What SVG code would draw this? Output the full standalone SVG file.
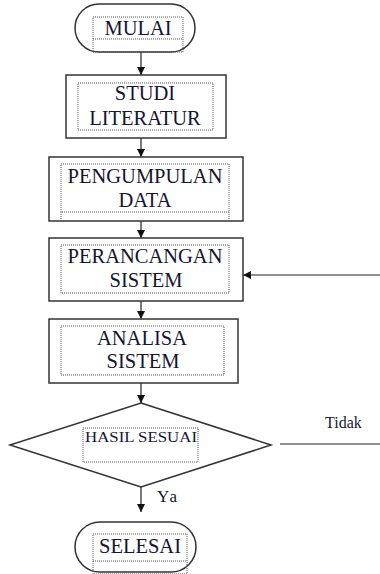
<svg xmlns="http://www.w3.org/2000/svg" width="380" height="574" viewBox="0 0 380 574">
<style>
.sh{fill:#fff;stroke:#333;stroke-width:1.5}
.dot{fill:none;stroke:#555;stroke-width:1;stroke-dasharray:1 1}
.t{font-family:'Liberation Serif',Tinos,'Times New Roman',Times,serif;font-size:20.5px;fill:#151530;text-anchor:middle}
.ln{fill:none;stroke:#222;stroke-width:1.2}
</style>
<defs>
<marker id="ah" viewBox="0 0 10 10" refX="10" refY="5" markerWidth="8" markerHeight="8" markerUnits="userSpaceOnUse" orient="auto">
<path d="M0,0 L10,5 L0,10 z" fill="#111"/>
</marker>
</defs>
<g id="connectors">
<line class="ln" x1="141" y1="52" x2="141" y2="75" marker-end="url(#ah)"/>
<line class="ln" x1="141" y1="138" x2="141" y2="157" marker-end="url(#ah)"/>
<line class="ln" x1="141" y1="221" x2="141" y2="238" marker-end="url(#ah)"/>
<line class="ln" x1="141" y1="301" x2="141" y2="319" marker-end="url(#ah)"/>
<line class="ln" x1="141" y1="383" x2="141" y2="403" marker-end="url(#ah)"/>
<line class="ln" x1="141" y1="487" x2="141" y2="512" marker-end="url(#ah)"/>
<line class="ln" x1="380" y1="275" x2="243" y2="275" marker-end="url(#ah)"/>
<line class="ln" x1="280" y1="444" x2="380" y2="444"/>
<text class="t" x="325" y="428" font-family="Liberation Serif, serif" style="font-size:16px;text-anchor:start">Tidak</text>
<text class="t" x="157" y="502" font-family="Liberation Serif, serif" style="font-size:17px;text-anchor:start;letter-spacing:2px">Ya</text>
</g>
<g id="mulai">
<rect class="sh" x="75" y="4" width="120" height="48" rx="24"/>
<rect class="dot" x="93" y="17" width="90" height="35"/>
<line class="dot" x1="93" y1="39" x2="183" y2="39"/>
<text class="t" x="138" y="35">MULAI</text>
</g>
<g id="studi">
<rect class="sh" x="66" y="75" width="160" height="63"/>
<rect class="dot" x="78" y="83" width="135" height="47"/>
<text class="t" x="145" y="100">STUDI</text>
<text class="t" x="145" y="125">LITERATUR</text>
</g>
<g id="pengumpulan">
<rect class="sh" x="49" y="157" width="194" height="64"/>
<rect class="dot" x="61" y="164" width="168" height="48"/>
<line class="dot" x1="61" y1="212" x2="61" y2="220"/>
<line class="dot" x1="229" y1="212" x2="229" y2="220"/>
<text class="t" x="145" y="183">PENGUMPULAN</text>
<text class="t" x="145" y="207">DATA</text>
</g>
<g id="perancangan">
<rect class="sh" x="49" y="238" width="194" height="63"/>
<rect class="dot" x="61" y="245" width="168" height="48"/>
<text class="t" x="145" y="263">PERANCANGAN</text>
<text class="t" x="146" y="287">SISTEM</text>
</g>
<g id="analisa">
<rect class="sh" x="49" y="319" width="189" height="64"/>
<rect class="dot" x="61" y="326" width="163" height="49"/>
<text class="t" x="142" y="345">ANALISA</text>
<text class="t" x="143" y="368">SISTEM</text>
</g>
<g id="hasil">
<polygon class="sh" points="141,403 271,445 141,487 10,445"/>
<rect class="dot" x="83" y="428" width="115" height="34"/>
<text class="t" x="141" y="442" style="font-size:14.5px" textLength="112" lengthAdjust="spacingAndGlyphs">HASIL SESUAI</text>
</g>
<g id="selesai">
<rect class="sh" x="75" y="522" width="121" height="50" rx="25"/>
<rect class="dot" x="93" y="534" width="94" height="40"/>
<line class="dot" x1="93" y1="561" x2="187" y2="561"/>
<text class="t" x="140" y="553">SELESAI</text>
</g>
</svg>
